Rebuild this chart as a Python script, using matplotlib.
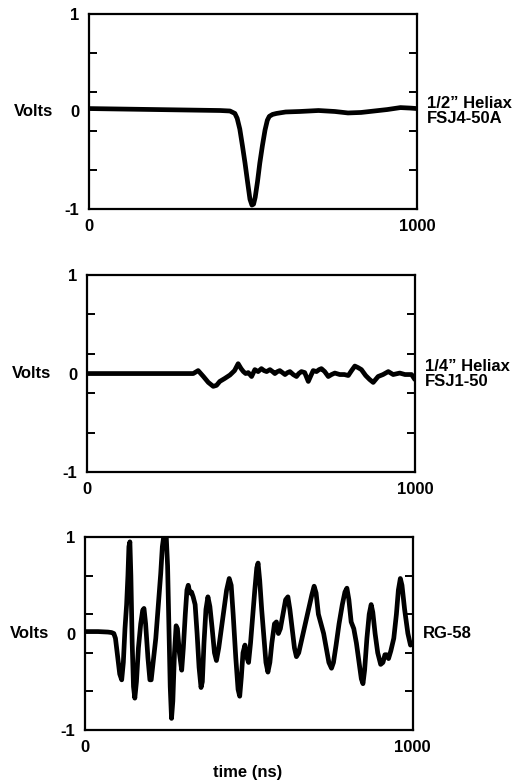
import matplotlib
matplotlib.use("Agg")
import matplotlib.pyplot as plt
import matplotlib.transforms as mtransforms

plt.rcParams['font.family'] = ['Liberation Sans', 'DejaVu Sans']
plt.rcParams['font.weight'] = 'bold'

# 1/2" Heliax FSJ4-50A
t_half = [0, 100, 200, 300, 400, 430, 445, 452, 460, 468, 476, 484, 491, 497, 502,
          507, 514, 521, 529, 537, 544, 550, 560, 572, 600, 643, 700, 750, 790, 830,
          870, 910, 950, 980, 1000]
v_half = [0.03, 0.025, 0.02, 0.015, 0.01, 0.005, -0.02, -0.07, -0.18, -0.35, -0.53,
          -0.73, -0.9, -0.96, -0.95, -0.88, -0.72, -0.53, -0.35, -0.19, -0.09, -0.05,
          -0.03, -0.02, -0.005, 0.0, 0.01, 0.0, -0.015, -0.01, 0.005, 0.02, 0.04,
          0.035, 0.03]

# 1/4" Heliax FSJ1-50
t_quarter = [0, 100, 200, 300, 324, 339, 355, 370, 385, 395, 405, 420, 436, 450, 461,
             470, 477, 484, 492, 502, 512, 522, 532, 540, 548, 558, 566, 573, 581, 588,
             596, 604, 612, 619, 629, 639, 646, 654, 664, 675, 683, 690, 700, 708, 715,
             725, 736, 746, 756, 771, 785, 797, 807, 817, 827, 837, 850, 862, 873, 888,
             903, 919, 934, 954, 970, 990, 1000]
v_quarter = [0, 0, 0, 0, 0, 0.03, -0.03, -0.09, -0.13, -0.12, -0.08, -0.05, -0.015,
             0.03, 0.1, 0.05, 0.02, 0.0, 0.01, -0.03, 0.04, 0.02, 0.05, 0.03, 0.02,
             0.04, 0.02, 0.0, 0.02, 0.03, 0.01, -0.01, 0.01, 0.02, -0.01, -0.03, 0.0,
             0.02, 0.01, -0.08, -0.02, 0.03, 0.02, 0.04, 0.05, 0.02, -0.03, -0.01,
             0.005, -0.01, -0.01, -0.02, 0.03, 0.076, 0.06, 0.04, -0.02, -0.06, -0.09,
             -0.03, -0.01, 0.02, -0.01, 0.005, -0.01, -0.01, -0.06]

# RG-58
t_rg58 = [0, 40, 70, 81, 88, 93, 100, 106, 112, 117, 122, 127, 131, 134, 137, 140,
          144, 148, 152, 157, 163, 170, 176, 180, 185, 192, 198, 202, 208, 216, 224,
          231, 236, 240, 248, 252, 256, 260, 264, 268, 273, 278, 282, 288, 295, 300,
          306, 311, 315, 320, 325, 330, 336, 342, 348, 354, 358, 363, 369, 375, 381,
          388, 395, 401, 408, 416, 424, 432, 440, 446, 452, 460, 467, 472, 477, 482,
          488, 494, 499, 505, 512, 518, 524, 528, 533, 539, 546, 552, 558, 564, 570,
          578, 584, 590, 596, 604, 612, 619, 625, 632, 639, 645, 652, 662, 672, 682,
          692, 699, 705, 712, 720, 728, 736, 744, 752, 758, 766, 775, 785, 793, 799,
          805, 812, 820, 828, 836, 843, 848, 853, 860, 867, 873, 878, 885, 893, 902,
          909, 915, 920, 926, 933, 942, 950, 956, 962, 967, 975, 985, 993, 1000]
v_rg58 = [0.02, 0.02, 0.015, 0.01, 0.0, -0.05, -0.25, -0.42, -0.48, -0.3, 0.05, 0.3,
          0.6, 0.9, 0.95, 0.6, -0.1, -0.55, -0.67, -0.5, -0.15, 0.1, 0.24, 0.26, 0.1,
          -0.25, -0.48, -0.48, -0.3, -0.05, 0.3, 0.62, 0.9, 1.0, 1.0, 0.7, 0.1, -0.55,
          -0.88, -0.7, -0.2, 0.08, 0.05, -0.2, -0.38, -0.15, 0.2, 0.45, 0.5, 0.42,
          0.43, 0.38, 0.3, 0.0, -0.35, -0.56, -0.5, -0.1, 0.25, 0.38, 0.28, 0.05,
          -0.2, -0.28, -0.15, 0.05, 0.25, 0.45, 0.57, 0.5, 0.2, -0.25, -0.58, -0.65,
          -0.45, -0.2, -0.12, -0.25, -0.3, -0.1, 0.2, 0.45, 0.68, 0.73, 0.55, 0.25,
          -0.05, -0.3, -0.4, -0.3, -0.1, 0.1, 0.12, 0.0, 0.05, 0.2, 0.35, 0.38, 0.25,
          0.05, -0.15, -0.24, -0.2, -0.05, 0.1, 0.25, 0.4, 0.49, 0.42, 0.2, 0.1, 0.0,
          -0.15, -0.3, -0.36, -0.3, -0.12, 0.1, 0.3, 0.43, 0.47, 0.35, 0.12, 0.05,
          -0.1, -0.3, -0.47, -0.52, -0.38, -0.05, 0.2, 0.3, 0.22, 0.0, -0.2, -0.32,
          -0.3, -0.22, -0.22, -0.26, -0.18, -0.05, 0.2, 0.45, 0.57, 0.5, 0.25, 0.0,
          -0.12, -0.1]

cable_labels = ["1/2\u201d Heliax\nFSJ4-50A", "1/4\u201d Heliax\nFSJ1-50", "RG-58"]
y_ticks = [-1, 0, 1]
y_minor = [-0.6, -0.2, 0.2, 0.6]
x_ticks = [0, 1000]

fig = plt.figure(figsize=(5.22, 7.81), dpi=100)
boxes = [[0.1705, 0.7324, 0.628, 0.2497],
         [0.1667, 0.3956, 0.628, 0.2522],
         [0.1628, 0.0653, 0.628, 0.2471]]
traces = [(t_half, v_half), (t_quarter, v_quarter), (t_rg58, v_rg58)]

for box, (t, v), label in zip(boxes, traces, cable_labels):
    ax = fig.add_axes(box)
    ax.plot(t, v, color='black', lw=3.4, solid_joinstyle='round',
            solid_capstyle='round')
    ax.set_xlim(0, 1000)
    ax.set_ylim(-1, 1)
    for s in ax.spines.values():
        s.set_linewidth(1.6)
    ax.set_yticks(y_ticks)
    ax.set_yticklabels(['-1', '0', '1'])
    ax.set_yticks(y_minor, minor=True)
    ax.set_xticks(x_ticks)
    ax.set_xticklabels(['0', '1000'])
    ax.tick_params(axis='both', which='major', length=0, labelsize=12, pad=7)
    ax.tick_params(axis='y', which='minor', direction='in', length=6, width=1.4,
                   left=True, right=True)
    trans = mtransforms.blended_transform_factory(ax.transAxes, ax.transData)
    ax.text(-0.11, 0.0, 'Volts', transform=trans, ha='right', va='center',
            fontsize=12, fontweight='bold')
    ax.text(1.03, 0.0, label, transform=trans, ha='left', va='center',
            fontsize=12, fontweight='bold', linespacing=1.0)

fig.text(248 / 522, 1 - 773 / 781, 'time (ns)', ha='center', va='center',
         fontsize=12, fontweight='bold')

fig.savefig('out.png', dpi=100)
